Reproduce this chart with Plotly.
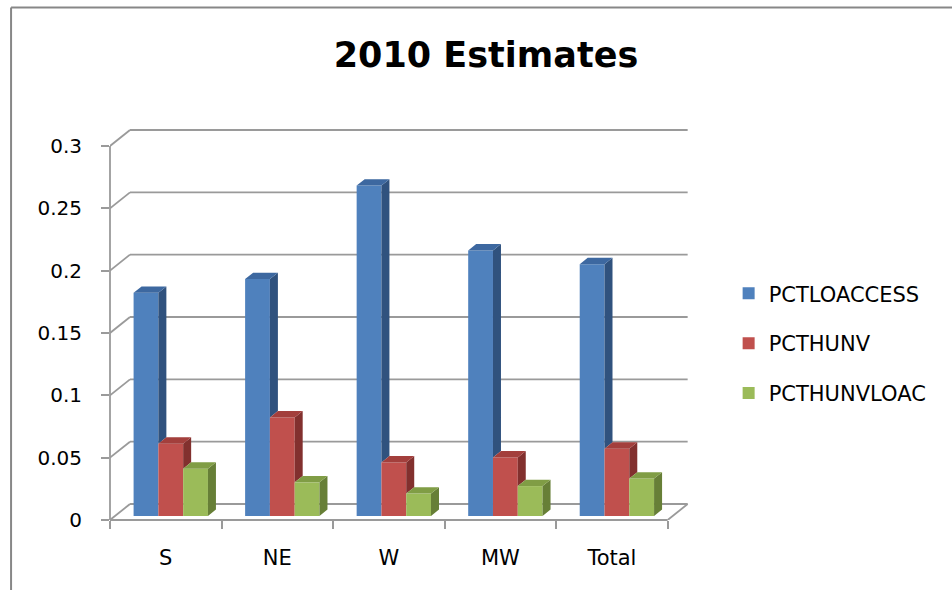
import plotly.graph_objects as go

# ---- data -------------------------------------------------------------
categories = ["S", "NE", "W", "MW", "Total"]
series_names = ["PCTLOACCESS", "PCTHUNV", "PCTHUNVLOAC"]
pct_lo_access = [0.179, 0.190, 0.265, 0.213, 0.202]
pct_hunv = [0.058, 0.079, 0.043, 0.047, 0.054]
pct_hunv_loac = [0.038, 0.027, 0.018, 0.024, 0.030]
y_ticks = [0, 0.05, 0.1, 0.15, 0.2, 0.25, 0.3]
y_tick_labels = ["0", "0.05", "0.1", "0.15", "0.2", "0.25", "0.3"]

series_values = [pct_lo_access, pct_hunv, pct_hunv_loac]

# ---- styling ------------------------------------------------------------
front_colors = ["#4f81bd", "#c0504d", "#9bbb59"]
top_colors = ["#3d68a0", "#a33f3c", "#809d45"]
side_colors = ["#30527e", "#82302e", "#677f37"]
grid_color = "#9a9a9a"
FONT = "DejaVu Sans"

W, H = 952, 590
PX_CAT = 111.6        # pixels per category slot
PX_VAL = 1248.0       # pixels per unit of value
DEPTH_PX = (20, 16)   # oblique offset from the front plane to the back wall
dxd = DEPTH_PX[0] / PX_CAT
dyd = DEPTH_PX[1] / PX_VAL

n = len(categories)
y_max = y_ticks[-1]
x_hi = n + dxd + 0.03
y_hi = y_max + dyd + 0.004

left, bottom = 110, 70
plot_w = x_hi * PX_CAT
plot_h = y_hi * PX_VAL
right = W - left - plot_w
top = H - bottom - plot_h


def px_x(px):
    return (px - left) / plot_w


def px_y(py):
    return (H - bottom - py) / plot_h


# column geometry: group occupies 2/3 of a slot, columns sit a quarter
# of the way into the floor depth and are 40% of the depth thick
bar_w = 2 / 3 / len(series_values)
group_left = (1 - 2 / 3) / 2
d0 = 0.25
dd = 0.40
shift_x, shift_y = d0 * dxd, d0 * dyd
ox, oy = dd * dxd, dd * dyd

fig = go.Figure()

# front faces
for j, (name, vals) in enumerate(zip(series_names, series_values)):
    xs = [i + group_left + bar_w * (j + 0.5) + shift_x for i in range(n)]
    fig.add_trace(go.Bar(
        x=xs, y=vals, base=[shift_y] * n, width=bar_w, name=name,
        marker=dict(color=front_colors[j], line=dict(width=0)),
        legendgroup=name, hoverinfo="skip",
    ))

# top and side faces (only the visible part of each side)
for j, vals in enumerate(series_values):
    sx, sy, tx, ty = [], [], [], []
    for i in range(n):
        xl = i + group_left + bar_w * j + shift_x
        xr = xl + bar_w
        b = shift_y
        t = b + vals[i]
        if j + 1 < len(series_values):
            t_next = b + series_values[j + 1][i]
            lower = t_next if t_next < t else None
        else:
            t_next = None
            lower = b
        if lower is not None:
            sx += [xr, xr + ox, xr + ox, xr, xr, None]
            sy += [lower, lower + oy, t + oy, t, lower, None]
        if t_next is not None and t_next > t:
            tx += [xl, xr, xr, xl + ox, xl, None]
            ty += [t, t, t + oy, t + oy, t, None]
        else:
            tx += [xl, xr, xr + ox, xl + ox, xl, None]
            ty += [t, t, t + oy, t + oy, t, None]
    fig.add_trace(go.Scatter(
        x=sx, y=sy, mode="lines", fill="toself", fillcolor=side_colors[j],
        line=dict(width=0, color=side_colors[j]), showlegend=False,
        hoverinfo="skip",
    ))
    fig.add_trace(go.Scatter(
        x=tx, y=ty, mode="lines", fill="toself", fillcolor=top_colors[j],
        line=dict(width=0, color=top_colors[j]), showlegend=False,
        hoverinfo="skip",
    ))

# carrier for the category label axis
fig.add_trace(go.Scatter(x=[None], y=[None], xaxis="x2", showlegend=False,
                         hoverinfo="skip"))

shapes = []
gl = dict(color=grid_color, width=1.8)
for v in y_ticks:
    shapes.append(dict(type="line", xref="x", yref="y", x0=0, y0=v,
                       x1=dxd, y1=v + dyd, line=gl, layer="below"))
    shapes.append(dict(type="line", xref="x", yref="y", x0=dxd, y0=v + dyd,
                       x1=n + dxd, y1=v + dyd, line=gl, layer="below"))
# floor right edge
shapes.append(dict(type="line", xref="x", yref="y", x0=n, y0=0,
                   x1=n + dxd, y1=dyd, line=gl, layer="below"))
# front axis lines
shapes.append(dict(type="line", xref="paper", yref="paper", x0=0, y0=0,
                   x1=0, y1=y_max / y_hi, line=gl, layer="below"))
shapes.append(dict(type="line", xref="paper", yref="paper", x0=0, y0=0,
                   x1=n / x_hi, y1=0, line=gl, layer="below"))
# chart frame
frame = dict(color="#878787", width=2)
shapes.append(dict(type="line", xref="paper", yref="paper",
                   x0=px_x(11), y0=px_y(7), x1=px_x(11), y1=px_y(600),
                   line=frame))
shapes.append(dict(type="line", xref="paper", yref="paper",
                   x0=px_x(11), y0=px_y(7), x1=px_x(960), y1=px_y(7),
                   line=frame))

fig.update_layout(
    width=W, height=H,
    margin=dict(l=left, r=right, t=top, b=bottom, pad=0),
    paper_bgcolor="white", plot_bgcolor="white",
    barmode="overlay",
    shapes=shapes,
    title=dict(text="2010 Estimates", x=486 / W, xref="container",
               xanchor="center", y=1 - 55 / H, yref="container",
               yanchor="middle",
               font=dict(family=FONT, size=35, color="black", weight="bold")),
    font=dict(family=FONT, color="black"),
    xaxis=dict(range=[0, x_hi], tickvals=list(range(n + 1)),
               showticklabels=False, ticks="outside", ticklen=8,
               tickwidth=1.8, tickcolor=grid_color, showgrid=False,
               zeroline=False, showline=False, fixedrange=True),
    xaxis2=dict(range=[0, x_hi], overlaying="x", anchor="y", side="bottom",
                tickvals=[i + 0.5 for i in range(n)], ticktext=categories,
                ticks="", showgrid=False, zeroline=False, showline=False,
                ticklabelstandoff=23,
                tickfont=dict(family=FONT, size=21, color="black")),
    yaxis=dict(range=[0, y_hi], tickvals=y_ticks, ticktext=y_tick_labels,
               ticks="outside", ticklen=8, tickwidth=1.8,
               tickcolor=grid_color, showgrid=False, zeroline=False,
               showline=False, ticklabelstandoff=15,
               tickfont=dict(family=FONT, size=20, color="black")),
    legend=dict(x=px_x(729), xanchor="left", y=px_y(343), yanchor="middle",
                font=dict(family=FONT, size=21, color="black"),
                tracegroupgap=19.5, bgcolor="rgba(0,0,0,0)"),
    showlegend=True,
)

fig.write_html("out.html")
